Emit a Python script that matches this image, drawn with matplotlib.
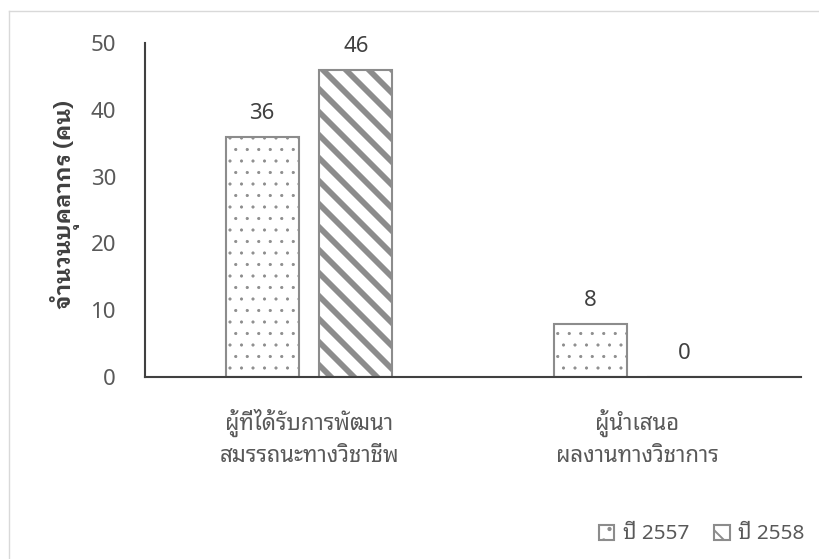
import matplotlib
matplotlib.use("Agg")
import matplotlib.pyplot as plt
from matplotlib.lines import Line2D
import numpy as np

plt.rcParams['font.family'] = ['Noto Sans Thai Looped', 'Noto Sans', 'DejaVu Sans']

# ---- data ----
categories = ["ผู้ที่ได้รับการพัฒนา\nสมรรถนะทางวิชาชีพ", "ผู้นำเสนอ\nผลงานทางวิชาการ"]
series_names = ["ปี 2557", "ปี 2558"]
values_2557 = [36, 8]
values_2558 = [46, 0]
y_ticks = [0, 10, 20, 30, 40, 50]
y_label = "จำนวนบุคลากร (คน)"

W, H = 819, 559
DPI = 138
P = 72 / DPI  # points per pixel

fig = plt.figure(figsize=(W / DPI, H / DPI), dpi=DPI)
ax = fig.add_axes([145 / W, 1 - 377 / H, (801 - 145) / W, (377 - 43) / H])

edge = '#8c8c8c'
x = np.arange(len(categories))
bw = 0.223
off = 0.143
dot_lw = 0.4
stripe_lw = 3.0

with plt.rc_context({'hatch.linewidth': dot_lw}):
    b1 = ax.bar(x - off, values_2557, bw, facecolor='white', edgecolor=edge,
                linewidth=2.1 * P, hatch='..', label=series_names[0])
with plt.rc_context({'hatch.linewidth': stripe_lw}):
    b2 = ax.bar(x + off, values_2558, bw, facecolor='white', edgecolor=edge,
                linewidth=2.1 * P, hatch='\\\\', label=series_names[1])
for bars, lw in ((b1, dot_lw), (b2, stripe_lw)):
    for p in bars:
        if hasattr(p, 'set_hatch_linewidth'):
            p.set_hatch_linewidth(lw)

for bars, vals in ((b1, values_2557), (b2, values_2558)):
    for p, v in zip(bars, vals):
        ax.annotate(f"{v}", (p.get_x() + p.get_width() / 2, v),
                    xytext=(0, 18 * P), textcoords='offset points',
                    ha='center', va='baseline', fontsize=22.2 * P, color='#404040')

ax.set_xlim(-0.5, len(categories) - 0.5)
ax.set_ylim(0, 50)
ax.set_yticks(y_ticks)
ax.set_xticks(x)
ax.set_xticklabels(categories, fontsize=22.2 * P, color='#595959', linespacing=1.55)
ax.tick_params(axis='y', length=0, pad=29 * P, labelsize=22.2 * P, labelcolor='#595959')
ax.tick_params(axis='x', length=0, pad=32 * P)

for s in ('top', 'right'):
    ax.spines[s].set_visible(False)
for s in ('left', 'bottom'):
    ax.spines[s].set_color('#404040')
    ax.spines[s].set_linewidth(2.1 * P)

ax.set_ylabel(y_label, fontsize=22.2 * P, fontweight='bold', color='#404040',
              family=['IBM Plex Sans Thai Looped', 'Noto Sans Thai Looped', 'DejaVu Sans'])
ax.yaxis.set_label_coords(-0.099, 0.515)

fig.legend(handles=[b1, b2], labels=series_names, loc='lower right',
           bbox_to_anchor=(1.0, 0.0), ncol=2, frameon=False, fontsize=20.8 * P,
           handlelength=0.75, handleheight=0.75, handletextpad=0.4,
           columnspacing=1.2, borderaxespad=0.3, labelcolor='#595959')

# light outer chart border
fig.add_artist(Line2D([9 / W, 1], [1 - 10.5 / H] * 2, transform=fig.transFigure,
                      color='#d9d9d9', lw=1.4 * P))
fig.add_artist(Line2D([9 / W] * 2, [0, 1 - 10.5 / H], transform=fig.transFigure,
                      color='#d9d9d9', lw=1.4 * P))

fig.savefig("out.png", dpi=DPI)
